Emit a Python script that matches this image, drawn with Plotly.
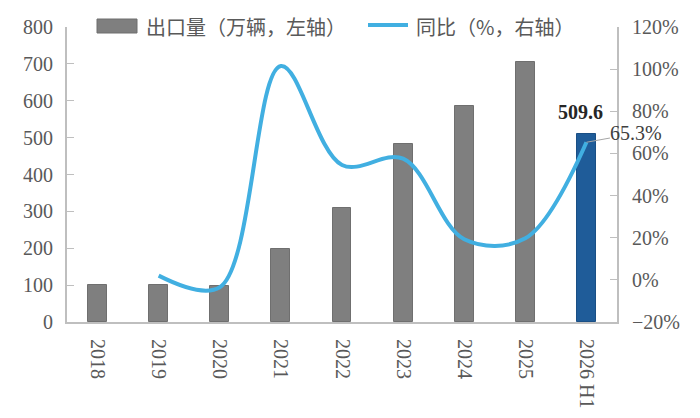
import plotly.graph_objects as go

categories = ["2018", "2019", "2020", "2021", "2022", "2023", "2024", "2025", "2026 H1"]
exports = [100, 101, 98, 199, 308, 483, 585, 705, 509.6]
yoy = [None, 2.0, -3.5, 101.5, 54.5, 57.5, 19.3, 19.7, 65.3]
bar_colors = ["#7f7f7f"] * 8 + ["#1f5c99"]
bar_line_colors = ["#6f6f6f"] * 8 + ["#1a4f85"]

legend_bar = "出口量（万辆，左轴）"
legend_line = "同比（%，右轴）"

serif = "Liberation Serif, Times New Roman, serif"
cjk = "Noto Sans CJK SC, sans-serif"
gray_text = "#595959"
axis_gray = "#bfbfbf"

OFF = 8  # page body margin
W, H = 700 - OFF, 418 - OFF
L, T = 67 - OFF, 27 - OFF
R = W - (617 - OFF)
B = H - (322 - OFF)
pw, ph = W - L - R, H - T - B

def px(x):
    return (x - OFF - L) / pw

def py(y):
    return (H - B - (y - OFF)) / ph

fig = go.Figure()
fig.add_trace(go.Bar(
    x=categories, y=exports, marker=dict(color=bar_colors, line=dict(color=bar_line_colors, width=1)),
    width=0.31, showlegend=False, yaxis="y", name=legend_bar,
))
fig.add_trace(go.Scatter(
    x=categories, y=yoy, mode="lines", line=dict(color="#41afe1", width=4, shape="spline", smoothing=1.0),
    showlegend=False, yaxis="y2", name=legend_line, connectgaps=False,
))

fig.update_layout(
    width=W, height=H,
    margin=dict(l=L, r=R, t=T, b=B, autoexpand=False),
    plot_bgcolor="white", paper_bgcolor="white",
    xaxis=dict(type="category", categoryorder="array", categoryarray=categories,
               range=[-0.5, len(categories) - 0.5], automargin=False,
               tickangle=90, tickfont=dict(family=serif, size=20, color=gray_text),
               ticklabelstandoff=11,
               showline=True, linecolor=axis_gray, linewidth=2, ticks="", showgrid=False,
               zeroline=False),
    yaxis=dict(range=[0, 800], dtick=100, tickfont=dict(family=serif, size=20, color=gray_text),
               automargin=False, ticklabelstandoff=8,
               showline=True, linecolor=axis_gray, linewidth=2, ticks="inside", ticklen=7,
               tickcolor=axis_gray, tickwidth=1, showgrid=False, zeroline=False),
    yaxis2=dict(range=[-20, 120], dtick=20, ticksuffix="%", overlaying="y", side="right",
                automargin=False, ticklabelstandoff=9,
                tickfont=dict(family=serif, size=20, color=gray_text),
                showline=True, linecolor=axis_gray, linewidth=2, ticks="inside", ticklen=7,
                tickcolor=axis_gray, tickwidth=1, showgrid=False, zeroline=False),
    bargap=0,
)

# annotations for last values
fig.add_annotation(x=categories[-1], y=exports[-1], yref="y", text="<b>509.6</b>",
                   showarrow=False, xshift=-6, yshift=22,
                   font=dict(family=serif, size=20, color="#262626"))
fig.add_annotation(x=categories[-1], y=yoy[-1], yref="y2", text="65.3%",
                   showarrow=True, arrowhead=0, arrowcolor="#a6a6a6", arrowwidth=1,
                   ax=50, ay=-9, borderpad=0, font=dict(family=serif, size=20, color="#404040"))

# manual legend
fig.add_shape(type="rect", xref="paper", yref="paper",
              x0=px(97), x1=px(137), y0=py(33), y1=py(19),
              fillcolor="#7f7f7f", line=dict(color="#6f6f6f", width=1))
fig.add_annotation(xref="paper", yref="paper", x=px(144), y=py(26), text=legend_bar,
                   xanchor="left", yanchor="middle", showarrow=False,
                   font=dict(family=cjk, size=20, color=gray_text))
fig.add_shape(type="line", xref="paper", yref="paper",
              x0=px(368), x1=px(408), y0=py(25), y1=py(25),
              line=dict(color="#41afe1", width=4))
fig.add_annotation(xref="paper", yref="paper", x=px(414), y=py(26), text=legend_line,
                   xanchor="left", yanchor="middle", showarrow=False,
                   font=dict(family=cjk, size=20, color=gray_text))

fig.write_html("out.html")
